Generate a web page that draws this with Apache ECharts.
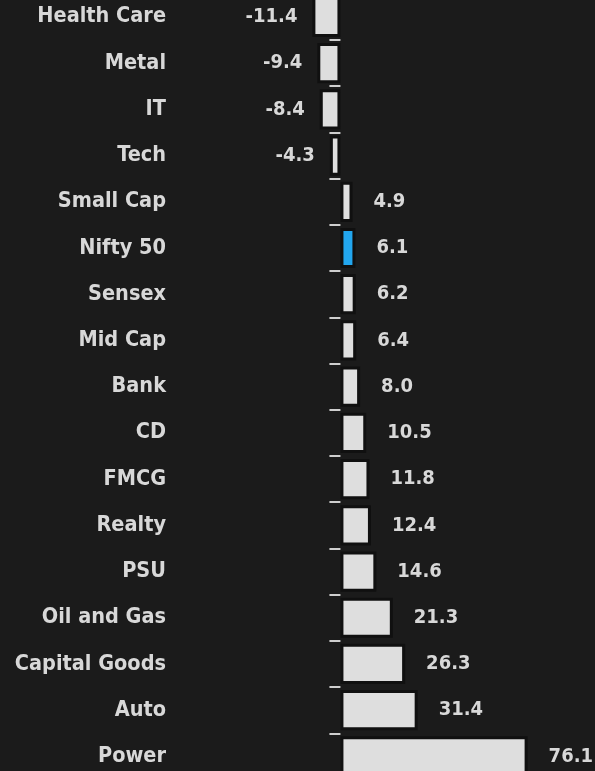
<!DOCTYPE html>
<html>
<head>
<meta charset="utf-8">
<title>Sector returns</title>
<script src="https://cdn.jsdelivr.net/npm/echarts@6/dist/echarts.min.js"></script>
<style>
  html, body { margin: 0; padding: 0; background: #1b1b1b; }
  #chart { width: 595px; height: 771px; }
</style>
</head>
<body>
<div id="chart"></div>
<script>
// Index / sector names, top to bottom
const categories = [
  'Health Care', 'Metal', 'IT', 'Tech', 'Small Cap', 'Nifty 50', 'Sensex',
  'Mid Cap', 'Bank', 'CD', 'FMCG', 'Realty', 'PSU', 'Oil and Gas',
  'Capital Goods', 'Auto', 'Power'
];
// Returns (%) for each category
const returns = [
  -11.4, -9.4, -8.4, -4.3, 4.9, 6.1, 6.2,
  6.4, 8.0, 10.5, 11.8, 12.4, 14.6, 21.3,
  26.3, 31.4, 76.1
];
// The benchmark bar drawn in a highlight colour
const highlighted = 'Nifty 50';

const FONT = '"DejaVu Sans Condensed", "DejaVu Sans", sans-serif';
const TEXT = '#d8d8d8';
const BAR = '#dedede';
const HILITE = '#22a6ee';

const seriesData = returns.map((v, i) => ({
  value: v,
  itemStyle: { color: categories[i] === highlighted ? HILITE : BAR },
  label: v < 0
    ? { position: 'left', distance: 15 }
    : { position: 'right', distance: 21 }
}));

const chart = echarts.init(document.getElementById('chart'), null, { renderer: 'canvas' });
chart.setOption({
  backgroundColor: '#1b1b1b',
  animation: false,
  grid: {
    left: 306, top: -6.2, width: 231.2, height: 785.7,
    containLabel: false, outerBoundsMode: 'none'
  },
  xAxis: {
    type: 'value',
    min: -14,
    max: 80,
    show: false
  },
  yAxis: {
    type: 'category',
    data: categories,
    inverse: true,
    axisLine: { show: false, onZero: true },
    axisTick: { show: true, length: 11, lineStyle: { color: '#cfcfcf', width: 2 } },
    axisLabel: {
      margin: 140,
      color: TEXT,
      fontFamily: FONT,
      fontWeight: 'bold',
      fontSize: 21.5
    },
    splitLine: { show: false }
  },
  series: [{
    type: 'bar',
    data: seriesData,
    barCategoryGap: '13%',
    itemStyle: { borderColor: '#101010', borderWidth: 3 },
    label: {
      show: true,
      color: TEXT,
      fontFamily: FONT,
      fontWeight: 'bold',
      fontSize: 20,
      formatter: p => p.value.toFixed(1)
    }
  }]
});
</script>
</body>
</html>
